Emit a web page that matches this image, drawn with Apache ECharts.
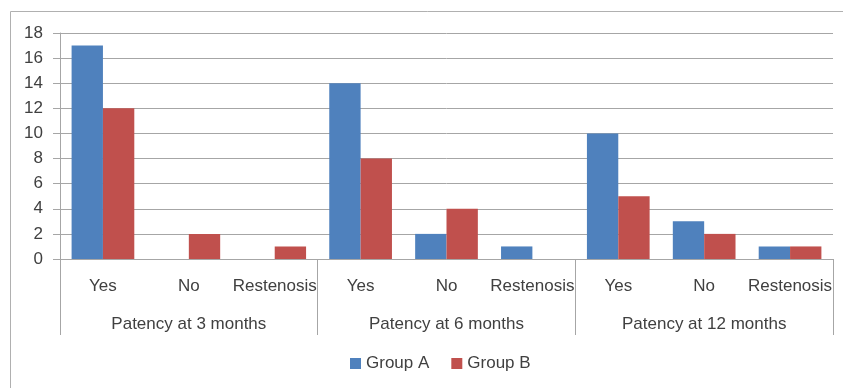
<!DOCTYPE html>
<html>
<head>
<meta charset="utf-8">
<script src="https://cdn.jsdelivr.net/npm/echarts@6/dist/echarts.min.js"></script>
<style>
  html, body { margin: 0; padding: 0; background: #ffffff; }
  #chart { width: 843px; height: 388px; }
</style>
</head>
<body>
<div id="chart"></div>
<script>
// Outcome categories within each follow-up period
const outcomes = ['Yes', 'No', 'Restenosis'];
// Follow-up periods (outer axis level)
const periods = ['Patency at 3 months', 'Patency at 6 months', 'Patency at 12 months'];
// Patient counts, in period order: Yes, No, Restenosis
const groupA = [17, 0, 0, 14, 2, 1, 10, 3, 1];
const groupB = [12, 2, 1, 8, 4, 0, 5, 2, 1];
// Value axis
const yMin = 0, yMax = 18, yStep = 2;

const innerLabels = periods.flatMap(() => outcomes);
const FONT = 'Liberation Sans';
const FS = 17;
const TEXT = '#404040';
const LINE = '#a6a6a6';

const chart = echarts.init(document.getElementById('chart'));
chart.setOption({
  animation: false,
  textStyle: { fontFamily: FONT },
  graphic: [{
    type: 'rect',
    shape: { x: 10.5, y: 11.5, width: 900, height: 500 },
    style: { fill: 'none', stroke: '#b0b0b0', lineWidth: 1 },
    silent: true
  }],
  grid: { left: 60, right: 10, top: 33, bottom: 129, containLabel: false },
  legend: {
    bottom: 11,
    left: 345,
    itemWidth: 11,
    itemHeight: 11,
    itemGap: 22,
    icon: 'rect',
    textStyle: { fontFamily: FONT, fontSize: FS, color: TEXT },
    data: ['Group A', 'Group B']
  },
  xAxis: [
    {
      type: 'category',
      data: innerLabels,
      position: 'bottom',
      axisLine: { show: true, lineStyle: { color: LINE, width: 1 } },
      axisTick: { show: false },
      axisLabel: { margin: 19, fontSize: FS, color: TEXT, fontFamily: FONT, interval: 0 }
    },
    {
      type: 'category',
      data: periods,
      position: 'bottom',
      axisLine: { show: false },
      axisTick: { show: true, length: 76, lineStyle: { color: LINE, width: 1 } },
      axisLabel: { margin: 57, fontSize: FS, color: TEXT, fontFamily: FONT, interval: 0 },
      splitLine: { show: false }
    }
  ],
  yAxis: {
    type: 'value',
    min: yMin,
    max: yMax,
    interval: yStep,
    axisLine: { show: true, lineStyle: { color: LINE, width: 1 } },
    axisTick: { show: true, length: 7, lineStyle: { color: LINE } },
    axisLabel: { margin: 17, fontSize: FS, color: TEXT, fontFamily: FONT },
    splitLine: { show: true, lineStyle: { color: LINE, width: 1 } }
  },
  series: [
    {
      name: 'Group A',
      type: 'bar',
      xAxisIndex: 0,
      data: groupA,
      barGap: '0%',
      barCategoryGap: '27%',
      itemStyle: { color: '#4f81bd' }
    },
    {
      name: 'Group B',
      type: 'bar',
      xAxisIndex: 0,
      data: groupB,
      barGap: '0%',
      barCategoryGap: '27%',
      itemStyle: { color: '#c0504d' }
    }
  ]
});
</script>
</body>
</html>
